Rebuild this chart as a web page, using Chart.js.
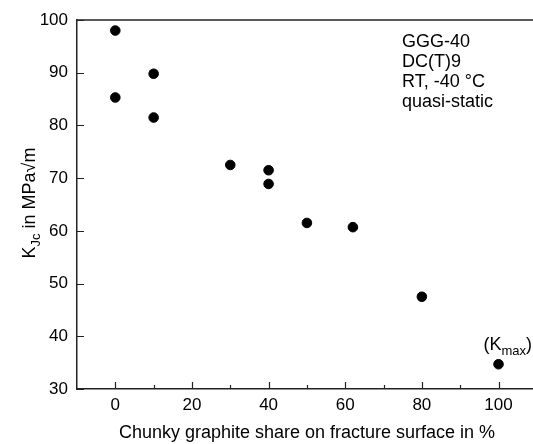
<!DOCTYPE html>
<html>
<head>
<meta charset="utf-8">
<script src="https://cdn.jsdelivr.net/npm/chart.js@4.4.1/dist/chart.umd.min.js"></script>
<style>
  html, body { margin: 0; padding: 0; background: #fff; }
  #wrap { width: 533px; height: 444px; }
</style>
</head>
<body>
<div id="wrap"><canvas id="chart" width="533" height="444"></canvas></div>
<script>
// chunky graphite share (%) and fracture toughness K_Jc (MPa*sqrt(m))
const shareVals = [0, 0, 10, 10, 30, 40, 40, 50, 62, 80, 100];
const kjcVals   = [98.0, 85.3, 89.8, 81.5, 72.5, 71.5, 68.9, 61.5, 60.7, 47.5, 34.7];

const xTickVals = [0, 20, 40, 60, 80, 100];
const xMinorVals = [10, 30, 50, 70, 90];
const yTickVals = [30, 40, 50, 60, 70, 80, 90, 100];

const noteLines = ['GGG-40', 'DC(T)9', 'RT, -40 °C', 'quasi-static'];

const FONT = "'Liberation Sans', Arial, sans-serif";
const AXIS_COLOR = '#222';

const points = shareVals.map((x, i) => ({ x: x, y: kjcVals[i] }));

const extras = {
    id: 'extras',
    afterDraw(chart) {
        const ctx = chart.ctx;
        const area = chart.chartArea;
        const xs = chart.scales.x;
        const ys = chart.scales.y;
        ctx.save();

        // top frame line
        ctx.strokeStyle = AXIS_COLOR;
        ctx.lineWidth = 1.5;
        ctx.beginPath();
        ctx.moveTo(area.left, area.top);
        ctx.lineTo(area.right, area.top);
        ctx.stroke();

        // inward ticks
        ctx.lineWidth = 1.2;
        ctx.beginPath();
        xTickVals.forEach(v => {
            const px = Math.round(xs.getPixelForValue(v)) + 0.5;
            ctx.moveTo(px, area.bottom);
            ctx.lineTo(px, area.bottom - 7);
        });
        xMinorVals.forEach(v => {
            const px = Math.round(xs.getPixelForValue(v)) + 0.5;
            ctx.moveTo(px, area.bottom);
            ctx.lineTo(px, area.bottom - 4);
        });
        yTickVals.forEach(v => {
            const py = Math.round(ys.getPixelForValue(v)) + 0.5;
            ctx.moveTo(area.left, py);
            ctx.lineTo(area.left + 7, py);
        });
        ctx.stroke();

        ctx.fillStyle = '#000';
        ctx.textBaseline = 'alphabetic';

        // note block
        ctx.font = '18px ' + FONT;
        ctx.textAlign = 'left';
        noteLines.forEach((t, i) => {
            ctx.fillText(t, area.right - 131, area.top + 27 + i * 20);
        });

        // (K_max) label above the last point
        const lx = xs.getPixelForValue(shareVals[shareVals.length - 1]) - 15;
        const ly = ys.getPixelForValue(kjcVals[kjcVals.length - 1]) - 14;
        ctx.font = '18px ' + FONT;
        ctx.fillText('(K', lx, ly);
        let w = ctx.measureText('(K').width;
        ctx.font = '13px ' + FONT;
        ctx.fillText('max', lx + w, ly + 5);
        w += ctx.measureText('max').width;
        ctx.font = '18px ' + FONT;
        ctx.fillText(')', lx + w, ly);

        // x title
        ctx.font = '18px ' + FONT;
        ctx.textAlign = 'center';
        ctx.fillText('Chunky graphite share on fracture surface in %', area.left + 230, 438);

        // y title with subscript
        ctx.translate(35, 203);
        ctx.rotate(-Math.PI / 2);
        const p1 = 'K', p2 = 'Jc', p3 = ' in MPa√m';
        ctx.font = '18px ' + FONT;
        const w1 = ctx.measureText(p1).width;
        const w3 = ctx.measureText(p3).width;
        ctx.font = '13px ' + FONT;
        const w2 = ctx.measureText(p2).width;
        let sx = -(w1 + w2 + w3) / 2;
        ctx.textAlign = 'left';
        ctx.font = '18px ' + FONT;
        ctx.fillText(p1, sx, 0);
        sx += w1;
        ctx.font = '13px ' + FONT;
        ctx.fillText(p2, sx, 5);
        sx += w2;
        ctx.font = '18px ' + FONT;
        ctx.fillText(p3, sx, 0);

        ctx.restore();
    }
};

new Chart(document.getElementById('chart'), {
    type: 'scatter',
    data: {
        datasets: [{
            label: 'K_Jc',
            data: points,
            backgroundColor: '#000',
            borderColor: '#000',
            pointRadius: 4.8,
            pointHoverRadius: 4.8
        }]
    },
    options: {
        responsive: false,
        animation: false,
        events: [],
        layout: { autoPadding: false, padding: { top: 20, right: 0, left: 0, bottom: 0 } },
        plugins: {
            legend: { display: false },
            tooltip: { enabled: false }
        },
        scales: {
            x: {
                type: 'linear',
                min: -10,
                max: 109,
                afterBuildTicks: s => { s.ticks = xTickVals.map(v => ({ value: v })); },
                afterFit: s => { s.height = 55; s.paddingRight = 0; s.paddingLeft = 0; },
                grid: { display: false, drawTicks: false },
                border: { display: true, color: AXIS_COLOR, width: 1.5 },
                ticks: {
                    color: '#000',
                    padding: 6,
                    maxRotation: 0,
                    font: { family: FONT, size: 17 }
                }
            },
            y: {
                type: 'linear',
                min: 30,
                max: 100,
                afterBuildTicks: s => { s.ticks = yTickVals.map(v => ({ value: v })); },
                afterFit: s => { s.width = 77; s.paddingTop = 0; s.paddingBottom = 0; },
                grid: { display: false, drawTicks: false },
                border: { display: true, color: AXIS_COLOR, width: 1.5 },
                ticks: {
                    color: '#000',
                    padding: 9,
                    font: { family: FONT, size: 17 }
                }
            }
        }
    },
    plugins: [extras]
});
</script>
</body>
</html>
